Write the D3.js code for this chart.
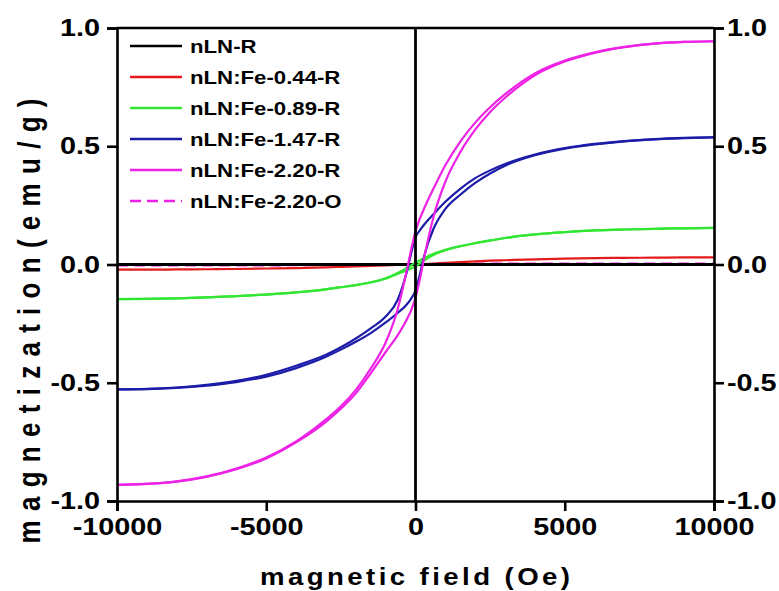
<html>
<head>
    <title>Magnetization</title>
    <style>
        body { margin: 0; background: #fff; }
        svg text { font-family: 'Liberation Sans', Arial, sans-serif; font-weight: bold; fill: #000; }
    </style>
</head>
<body>
    <div id="grafico"></div>
    <script src="https://d3js.org/d3.v7.min.js"></script>
    <script>
        // Campo magnético (Oe)
        const fieldOe = [-10000, -9000, -8000, -7000, -6000, -5000, -4000, -3000, -2500, -2000, -1500, -1000, -600, -300, -150,
                         0, 150, 300, 600, 1000, 1500, 2000, 2500, 3000, 4000, 5000, 6000, 7000, 8000, 9000, 10000];

        // Magnetização (emu/g) - ramo descendente (superior) e ascendente (inferior)
        const nLN_R = [0, 0, 0, 0, 0, 0, 0, 0, 0, 0, 0, 0, 0, 0, 0,
                       0, 0, 0, 0, 0, 0, 0, 0, 0, 0, 0, 0, 0, 0, 0, 0];
        const fe044 = [-0.022, -0.022, -0.021, -0.020, -0.019, -0.017, -0.015, -0.012, -0.010, -0.008, -0.006, -0.004, -0.002, -0.001, -0.0005,
                       0, 0.001, 0.002, 0.004, 0.007, 0.010, 0.013, 0.016, 0.018, 0.022, 0.025, 0.027, 0.028, 0.029, 0.030, 0.030];
        const fe089Down = [-0.146, -0.145, -0.143, -0.139, -0.134, -0.127, -0.118, -0.105, -0.096, -0.087, -0.075, -0.058, -0.036, -0.015, -0.004,
                           0.008, 0.018, 0.028, 0.045, 0.062, 0.078, 0.091, 0.102, 0.112, 0.127, 0.137, 0.144, 0.148, 0.151, 0.153, 0.155];
        const fe089Up = [-0.146, -0.145, -0.143, -0.139, -0.134, -0.127, -0.118, -0.105, -0.096, -0.087, -0.076, -0.060, -0.040, -0.025, -0.017,
                         -0.008, 0.005, 0.018, 0.040, 0.060, 0.077, 0.090, 0.101, 0.112, 0.127, 0.137, 0.144, 0.148, 0.151, 0.153, 0.155];
        const fe147Down = [-0.528, -0.526, -0.520, -0.509, -0.492, -0.466, -0.428, -0.382, -0.350, -0.313, -0.270, -0.220, -0.150, -0.035, 0.045,
                           0.115, 0.145, 0.170, 0.212, 0.265, 0.320, 0.365, 0.398, 0.425, 0.465, 0.492, 0.510, 0.522, 0.530, 0.535, 0.538];
        const fe147Up = [-0.528, -0.527, -0.522, -0.512, -0.497, -0.474, -0.438, -0.390, -0.360, -0.327, -0.290, -0.245, -0.205, -0.170, -0.145,
                         -0.110, -0.040, 0.040, 0.150, 0.235, 0.295, 0.345, 0.385, 0.418, 0.462, 0.490, 0.508, 0.521, 0.529, 0.534, 0.538];
        const fe220Down = [-0.932, -0.928, -0.917, -0.896, -0.863, -0.816, -0.748, -0.655, -0.600, -0.530, -0.440, -0.330, -0.190, -0.030, 0.060,
                           0.140, 0.195, 0.240, 0.320, 0.420, 0.520, 0.600, 0.665, 0.720, 0.808, 0.862, 0.897, 0.920, 0.934, 0.941, 0.944];
        const fe220Up = [-0.932, -0.928, -0.918, -0.898, -0.866, -0.820, -0.752, -0.665, -0.610, -0.545, -0.460, -0.370, -0.300, -0.235, -0.195,
                         -0.140, -0.060, 0.035, 0.200, 0.350, 0.475, 0.570, 0.645, 0.705, 0.800, 0.858, 0.895, 0.919, 0.934, 0.941, 0.944];
        const fe220O = [-0.004, -0.004, -0.004, -0.004, -0.004, -0.004, -0.003, -0.003, -0.003, -0.002, -0.002, -0.002, -0.001, -0.001, -0.001,
                        0, 0.001, 0.001, 0.002, 0.003, 0.004, 0.004, 0.004, 0.004, 0.004, 0.004, 0.004, 0.004, 0.004, 0.004, 0.004];

        const xTicks = [-10000, -5000, 0, 5000, 10000];
        const yTicks = [-1.0, -0.5, 0.0, 0.5, 1.0];

        const legendNames = ["nLN-R", "nLN:Fe-0.44-R", "nLN:Fe-0.89-R", "nLN:Fe-1.47-R", "nLN:Fe-2.20-R", "nLN:Fe-2.20-O"];
        const legendColors = ["#000000", "#e31a1c", "#33e633", "#1c1ca8", "#ee22e6", "#ee22e6"];

        const SX = 1.2; // texto esticado na horizontal

        const svg = d3.select("#grafico").append("svg")
            .attr("width", 779)
            .attr("height", 591);

        svg.append("rect").attr("width", 779).attr("height", 591).attr("fill", "#fff");

        const x = d3.scaleLinear().domain([-10000, 10000]).range([117, 714]);
        const y = d3.scaleLinear().domain([-1, 1]).range([501, 28]);

        function stretch(sel) {
            sel.each(function () {
                const t = d3.select(this);
                const x0 = +t.attr("x") || 0;
                t.attr("x", x0 / SX).attr("transform", `scale(${SX},1)`);
            });
        }

        // Linhas das curvas
        const line = d3.line()
            .x((d, i) => x(fieldOe[i]))
            .y(d => y(d))
            .curve(d3.curveMonotoneX);

        const curves = [
            { values: fe220O, color: legendColors[5], dash: "11,6" },
            { values: fe044, color: legendColors[1] },
            { values: nLN_R, color: legendColors[0], width: 2.8 },
            { values: fe089Down, color: legendColors[2] },
            { values: fe089Up, color: legendColors[2] },
            { values: fe147Down, color: legendColors[3] },
            { values: fe147Up, color: legendColors[3] },
            { values: fe220Down, color: legendColors[4] },
            { values: fe220Up, color: legendColors[4] }
        ];

        svg.selectAll("path.curve")
            .data(curves)
            .join("path")
            .attr("class", "curve")
            .attr("d", d => line(d.values))
            .attr("fill", "none")
            .attr("stroke", d => d.color)
            .attr("stroke-width", d => d.width || 2.2)
            .attr("stroke-dasharray", d => d.dash || null);

        // Linha vertical em 0
        svg.append("line")
            .attr("x1", x(0)).attr("x2", x(0))
            .attr("y1", y(1)).attr("y2", y(-1))
            .attr("stroke", "#000").attr("stroke-width", 2.8);

        // Moldura superior
        svg.append("line")
            .attr("x1", x(-10000)).attr("x2", x(10000))
            .attr("y1", y(1)).attr("y2", y(1))
            .attr("stroke", "#000").attr("stroke-width", 2.6);

        // Eixos (hífen normal no lugar do sinal de menos)
        const yFmt = d => d3.format(".1f")(d).replace("\u2212", "-");
        const xFmt = d => d3.format("d")(d).replace("\u2212", "-");

        const gLeft = svg.append("g")
            .attr("transform", `translate(${x(-10000)},0)`)
            .call(d3.axisLeft(y).tickValues(yTicks).tickFormat(yFmt).tickSize(10).tickPadding(7));

        const gRight = svg.append("g")
            .attr("transform", `translate(${x(10000)},0)`)
            .call(d3.axisRight(y).tickValues(yTicks).tickFormat(yFmt).tickSize(10).tickPadding(3));

        const gBottom = svg.append("g")
            .attr("transform", `translate(0,${y(-1)})`)
            .call(d3.axisBottom(x).tickValues(xTicks).tickFormat(xFmt).tickSize(10).tickPadding(7));

        [gLeft, gRight, gBottom].forEach(g => {
            g.select(".domain").attr("stroke-width", 2.6);
            g.selectAll(".tick line").attr("stroke-width", 2.6);
            g.selectAll(".tick text").style("font-size", "24px")
                .style("font-family", "'Liberation Sans', Arial, sans-serif")
                .style("font-weight", "bold");
            stretch(g.selectAll(".tick text"));
        });

        // Títulos dos eixos
        svg.append("text")
            .attr("transform", `translate(415,585) scale(${SX},1)`)
            .attr("text-anchor", "middle")
            .attr("textLength", 310 / SX)
            .attr("lengthAdjust", "spacing")
            .style("font-size", "23px")
            .text("magnetic field (Oe)");

        svg.append("text")
            .attr("transform", `translate(40,321) scale(${SX},1) rotate(-90)`)
            .attr("text-anchor", "middle")
            .attr("textLength", 445)
            .attr("lengthAdjust", "spacing")
            .style("font-size", "26px")
            .text("magnetization(emu/g)");

        // Legenda
        const legend = svg.selectAll("g.legend")
            .data(legendNames)
            .join("g")
            .attr("class", "legend")
            .attr("transform", (d, i) => `translate(130,${46 + i * 31})`);

        legend.append("line")
            .attr("x1", 0).attr("x2", 52)
            .attr("stroke", (d, i) => legendColors[i])
            .attr("stroke-width", 2.4)
            .attr("stroke-dasharray", (d, i) => i === 5 ? "11,6" : null);

        legend.append("text")
            .attr("transform", `translate(60,0) scale(${SX},1)`)
            .attr("dy", "0.36em")
            .style("font-size", "18.5px")
            .text(d => d);
    </script>
</body>
</html>
